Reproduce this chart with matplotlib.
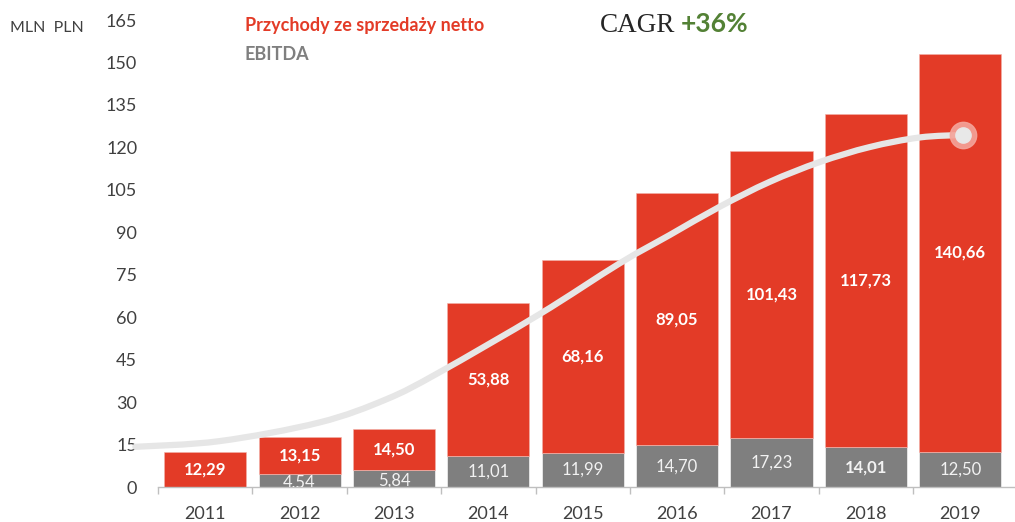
import matplotlib.pyplot as plt
import numpy as np
from matplotlib.path import Path
from matplotlib.patches import PathPatch

years = ['2011', '2012', '2013', '2014', '2015', '2016', '2017', '2018', '2019']
ebitda = [0, 4.54, 5.84, 11.01, 11.99, 14.70, 17.23, 14.01, 12.50]
revenue = [12.29, 13.15, 14.50, 53.88, 68.16, 89.05, 101.43, 117.73, 140.66]
ebitda_bold = [False, False, False, False, False, False, False, True, False]

# decorative trend curve (x in category units)
curve_x = [-0.74, 0.15, 1.21, 1.92, 2.48, 3.54, 4.39, 4.92, 5.45, 5.98, 6.51, 7.04, 7.57, 8.03]
curve_y = [14.2, 16.2, 22.8, 31.0, 40.5, 61.0, 79.0, 89.0, 99.0, 107.8, 114.8, 120.1, 123.5, 124.4]

RED = '#E33B27'
GREY = '#7F7F7F'
TXT = '#404040'

plt.rcParams['font.family'] = ['Lato', 'DejaVu Sans']

fig = plt.figure(figsize=(10.15, 5.22), dpi=100)
ax = fig.add_axes([158 / 1015, 1 - 487 / 522, 1 - 158 / 1015, (487 - 20) / 522])

x = np.arange(len(years))
ax.bar(x, ebitda, width=0.87, color=GREY, edgecolor='white', linewidth=0.4, zorder=2)
ax.bar(x, revenue, width=0.87, bottom=ebitda, color=RED, edgecolor='#F2B3AA', linewidth=0.4, zorder=2)

for i in range(len(years)):
    ax.text(x[i], ebitda[i] + revenue[i] / 2, f'{revenue[i]:.2f}'.replace('.', ','),
            ha='center', va='center', color='white', fontsize=12, fontweight='bold', zorder=5)
    if ebitda[i] > 0:
        ax.text(x[i], ebitda[i] / 2 - (0.8 if ebitda[i] < 6 else 0), f'{ebitda[i]:.2f}'.replace('.', ','),
                ha='center', va='center', color='#F2F2F2', fontsize=12,
                fontweight='bold' if ebitda_bold[i] else 'normal', zorder=5, clip_on=True)

# smooth curve through the read points: cubic bezier segments (catmull-rom control points)
pts = np.column_stack([curve_x, curve_y])
verts = [pts[0]]
codes = [Path.MOVETO]
for k in range(len(pts) - 1):
    p0 = pts[k - 1] if k > 0 else pts[k]
    p1, p2 = pts[k], pts[k + 1]
    p3 = pts[k + 2] if k + 2 < len(pts) else pts[k + 1]
    verts += [p1 + (p2 - p0) / 6, p2 - (p3 - p1) / 6, p2]
    codes += [Path.CURVE4] * 3
ax.add_patch(PathPatch(Path(verts, codes), facecolor='none', edgecolor='#E6E6E6', lw=4.5,
                       capstyle='round', zorder=3, clip_on=False))
ax.plot(curve_x[-1], curve_y[-1], 'o', ms=19, color='#F4A49A', alpha=0.9, zorder=4, clip_on=False)
ax.plot(curve_x[-1], curve_y[-1], 'o', ms=11, color='#E8E8E8', zorder=4, clip_on=False)

ax.set_xlim(-0.5, 8.58)
ax.set_ylim(0, 165)
ax.set_yticks(np.arange(0, 166, 15))
ax.tick_params(axis='y', length=0, pad=15, labelsize=13, labelcolor=TXT)
ax.set_xticks(x)
ax.set_xticklabels(years)
ax.set_xticks(np.arange(-0.5, 8.5, 1), minor=True)
ax.tick_params(axis='x', which='major', length=0, pad=14, labelsize=13, labelcolor=TXT)
ax.tick_params(axis='x', which='minor', length=5, color='#BFBFBF', width=1)
for s in ['left', 'right', 'top']:
    ax.spines[s].set_visible(False)
ax.spines['bottom'].set_color('#BFBFBF')
ax.spines['bottom'].set_linewidth(1)

fig.text(10 / 1015, 1 - 28 / 522, 'MLN  PLN', ha='left', va='center', fontsize=11.5, color=TXT)
fig.text(245 / 1015, 1 - 25 / 522, 'Przychody ze sprzedaży netto', ha='left', va='center',
         fontsize=13, fontweight='bold', color=RED)
fig.text(245 / 1015, 1 - 55 / 522, 'EBITDA', ha='left', va='center',
         fontsize=13, fontweight='bold', color=GREY)
fig.text(600 / 1015, 1 - 25 / 522, 'CAGR', ha='left', va='center', fontsize=19.5,
         family='Liberation Serif', color='#262626')
fig.text(681 / 1015, 1 - 24 / 522, '+36%', ha='left', va='center', fontsize=19,
         fontweight='bold', color='#538135')

fig.savefig('out.png', dpi=100)
